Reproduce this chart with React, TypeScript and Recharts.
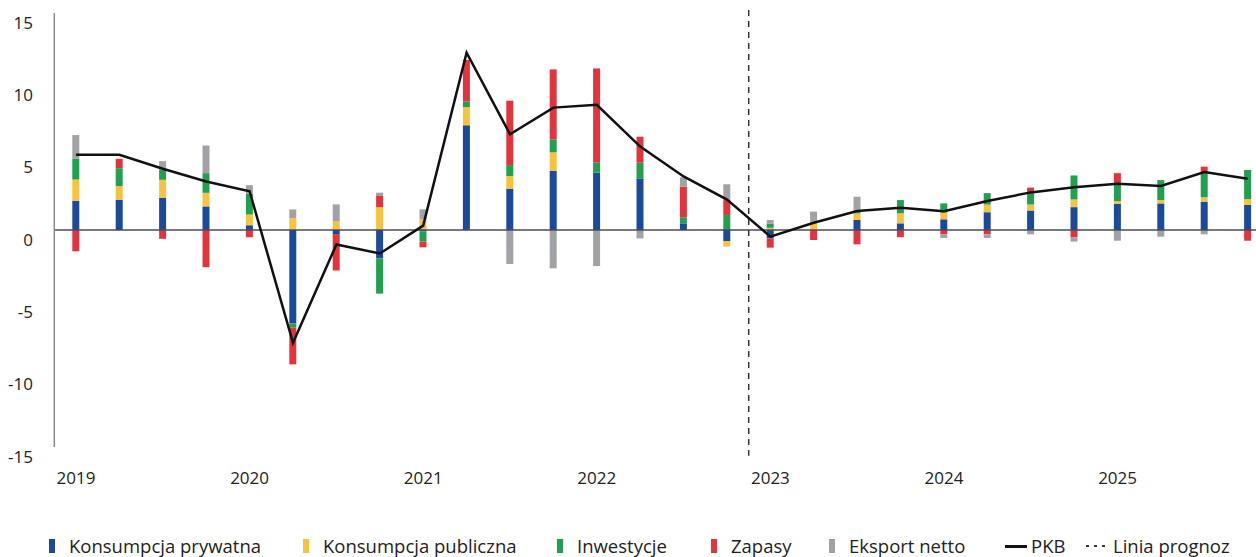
import React from 'react';
import { ComposedChart, Bar, Line, XAxis, YAxis, ReferenceLine } from 'recharts';

// kwartały 2019-2025
const quarters = [
  '2019Q1', '2019Q2', '2019Q3', '2019Q4',
  '2020Q1', '2020Q2', '2020Q3', '2020Q4',
  '2021Q1', '2021Q2', '2021Q3', '2021Q4',
  '2022Q1', '2022Q2', '2022Q3', '2022Q4',
  '2023Q1', '2023Q2', '2023Q3', '2023Q4',
  '2024Q1', '2024Q2', '2024Q3', '2024Q4',
  '2025Q1', '2025Q2', '2025Q3', '2025Q4',
];

const konsumpcjaPrywatna = [
  2.02, 2.09, 2.23, 1.63, 0.33, -6.45, -0.28, -1.96,
  -0.1, 7.24, 2.86, 4.1, 3.96, 3.57, 0.46, -0.76,
  -0.58, 0, 0.69, 0.46, 0.74, 1.23, 1.35, 1.58,
  1.8, 1.84, 1.96, 1.74,
];
const konsumpcjaPubliczna = [
  1.47, 0.94, 1.24, 0.94, 0.74, 0.82, 0.6, 1.57,
  0.74, 1.25, 0.87, 1.27, 0, 0, 0, -0.39,
  0.15, 0.46, 0.46, 0.69, 0.46, 0.53, 0.41, 0.53,
  0.2, 0.23, 0.3, 0.39,
];
const inwestycje = [
  1.43, 1.24, 0.71, 1.36, 1.43, -0.3, 0, -2.44,
  -0.7, 0.39, 0.76, 0.9, 0.69, 1.08, 0.42, 1.04,
  0.3, 0, 0.25, 0.92, 0.64, 0.79, 0.79, 1.66,
  1.2, 1.38, 1.73, 2.02,
];
const zapasy = [
  -1.47, 0.65, -0.61, -2.57, -0.5, -2.54, -2.52, 0.78,
  -0.4, 2.88, 4.45, 4.83, 6.52, 1.8, 2.12, 1.03,
  -0.64, -0.69, -0.99, -0.5, -0.3, -0.3, 0.38, -0.5,
  0.73, 0, 0.39, -0.74,
];
const eksportNetto = [
  1.64, 0, 0.58, 1.91, 0.6, 0.6, 1.17, 0.23,
  0.69, 0, -2.35, -2.65, -2.49, -0.58, 0.64, 1.09,
  0.24, 0.81, 0.9, 0, -0.25, -0.25, -0.3, -0.3,
  -0.74, -0.46, -0.3, 0,
];
const pkb = [
  5.2, 5.2, 4.23, 3.35, 2.68, -7.8, -1.0, -1.62,
  0.3, 12.26, 6.62, 8.46, 8.65, 5.77, 3.7, 2.1,
  -0.46, 0.5, 1.31, 1.54, 1.3, 2.0, 2.6, 2.95,
  3.2, 3.05, 4.0, 3.55,
];

const yTicks = [15, 10, 5, 0, -5, -10, -15];
const forecastStart = '2023Q1';

const series = [
  { key: 'kp', name: 'Konsumpcja prywatna', color: '#1b4a9b', values: konsumpcjaPrywatna },
  { key: 'kpub', name: 'Konsumpcja publiczna', color: '#f8c23c', values: konsumpcjaPubliczna },
  { key: 'inw', name: 'Inwestycje', color: '#22a052', values: inwestycje },
  { key: 'zap', name: 'Zapasy', color: '#e2343f', values: zapasy },
  { key: 'eks', name: 'Eksport netto', color: '#a0a2a5', values: eksportNetto },
];

const data = quarters.map((q, i) => {
  const row: Record<string, any> = { q, pkb: pkb[i] };
  series.forEach((s) => {
    row[s.key] = s.values[i];
  });
  return row;
});

const FONT = '"Open Sans", sans-serif';

const YTick = ({ y, payload }: any) => (
  <text x={33} y={y + 15.5} textAnchor="end" fontSize={17} fill="#222" fontFamily={FONT}>
    {payload.value}
  </text>
);

const XTick = ({ x, payload }: any) => {
  if (!String(payload.value).endsWith('Q1')) return <g />;
  return (
    <text x={x} y={484} textAnchor="middle" fontSize={17} fill="#222" fontFamily={FONT}>
      {String(payload.value).slice(0, 4)}
    </text>
  );
};

const legendLefts = [49, 303, 557, 711, 829, 1005, 1085];
const legendText = { fontSize: 18.5, lineHeight: '20px', color: '#222', fontFamily: FONT, whiteSpace: 'nowrap' as const };
const legendItem = { position: 'absolute' as const, top: 536, height: 20, display: 'flex', alignItems: 'center' };

const Legend = () => (
  <div style={{ position: 'absolute', left: 0, top: 0, width: 1256, height: 557, pointerEvents: 'none' }}>
    {series.map((s, i) => (
      <div key={s.key} style={{ ...legendItem, left: legendLefts[i] }}>
        <span style={{ display: 'inline-block', width: 6, height: 14, background: s.color }} />
        <span style={{ ...legendText, marginLeft: 14 }}>{s.name}</span>
      </div>
    ))}
    <div style={{ ...legendItem, left: legendLefts[5] }}>
      <span style={{ display: 'inline-block', width: 22, height: 3, background: '#111' }} />
      <span style={{ ...legendText, marginLeft: 4 }}>PKB</span>
    </div>
    <div style={{ ...legendItem, left: legendLefts[6] }}>
      <svg width={24} height={4}>
        <line x1={1} y1={2} x2={24} y2={2} stroke="#333" strokeWidth={2} strokeDasharray="3 5" />
      </svg>
      <span style={{ ...legendText, marginLeft: 4 }}>Linia prognoz</span>
    </div>
  </div>
);

export default function App() {
  return (
    <div style={{ position: 'absolute', left: 0, top: 0, width: 1256, height: 557, overflow: 'hidden', background: '#fff' }}>
      <ComposedChart
        width={1290}
        height={557}
        data={data}
        stackOffset="sign"
        margin={{ top: 13, right: 20.5, bottom: 80, left: 0 }}
        style={{ fontFamily: FONT }}
      >
        <XAxis dataKey="q" axisLine={false} tickLine={false} interval={0} tick={<XTick />} height={30} />
        <YAxis
          domain={[-15, 15]}
          ticks={yTicks}
          interval={0}
          width={54.3}
          tickLine={false}
          axisLine={{ stroke: '#8a8a8a', strokeWidth: 1.5 }}
          tick={<YTick />}
        />
        {series.map((s) => (
          <Bar key={s.key} dataKey={s.key} name={s.name} stackId="a" fill={s.color} barSize={7} isAnimationActive={false} />
        ))}
        <ReferenceLine y={0} stroke="#4b4b5b" strokeWidth={1.5} />
        <ReferenceLine
          segment={[{ x: forecastStart, y: 15.2 }, { x: forecastStart, y: -15.6 }]}
          position="start"
          ifOverflow="visible"
          stroke="#333"
          strokeWidth={1.5}
          strokeDasharray="6 5"
        />
        <Line dataKey="pkb" name="PKB" type="linear" stroke="#111" strokeWidth={2.5} dot={false} isAnimationActive={false} />
      </ComposedChart>
      <Legend />
    </div>
  );
}
